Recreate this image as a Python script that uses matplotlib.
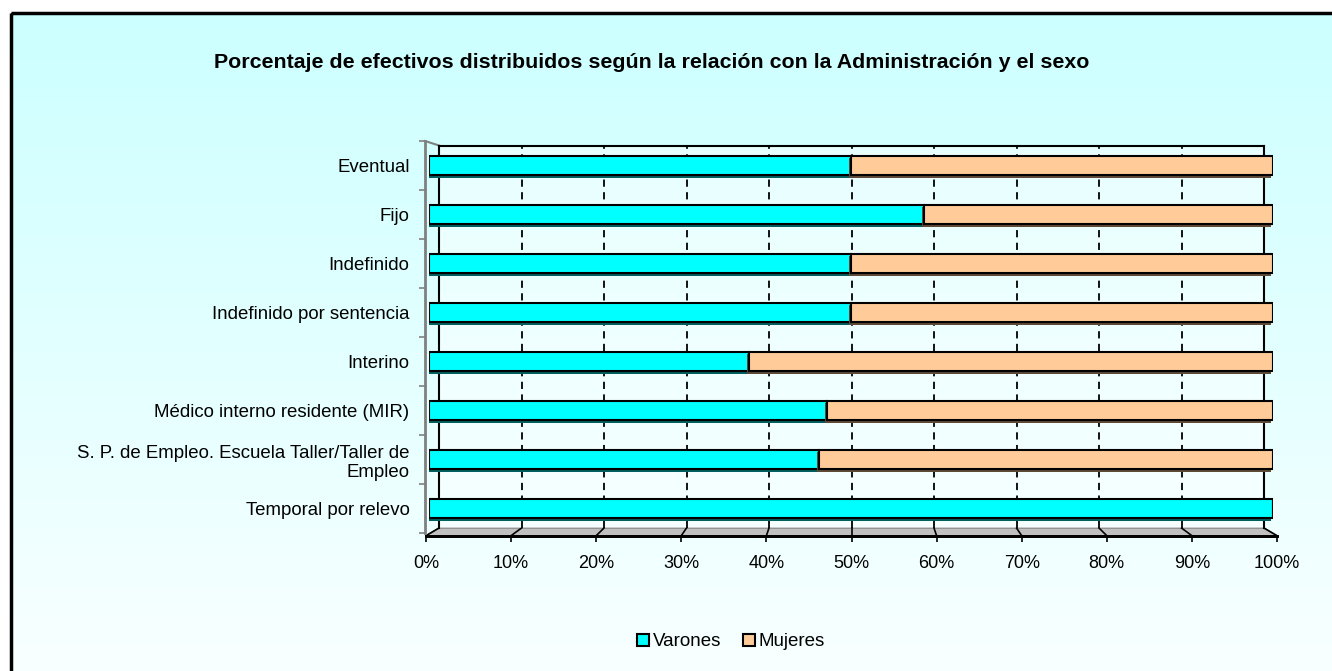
import numpy as np
import matplotlib
matplotlib.use("Agg")
import matplotlib.pyplot as plt
from matplotlib.patches import Rectangle, Polygon, Patch
from matplotlib import patheffects as pe

plt.rcParams['font.family'] = ['Liberation Sans', 'DejaVu Sans']

# ---- data -------------------------------------------------------------
categories = [
    "Eventual",
    "Fijo",
    "Indefinido",
    "Indefinido por sentencia",
    "Interino",
    "Médico interno residente (MIR)",
    "S. P. de Empleo. Escuela Taller/Taller de\nEmpleo",
    "Temporal por relevo",
]
varones = [50.0, 58.6, 50.0, 50.0, 37.9, 47.2, 46.2, 100.0]
mujeres = [50.0, 41.4, 50.0, 50.0, 62.1, 52.8, 53.8, 0.0]
series_names = ["Varones", "Mujeres"]
series_colors = ["#00FFFF", "#FFCC99"]
shadow_colors = ["#005F5F", "#5F4A38"]
x_ticks = np.arange(0, 101, 10)
x_ticklabels = [f"{t}%" for t in x_ticks]
title = "Porcentaje de efectivos distribuidos según la relación con la Administración y el sexo"

W, H = 1332, 671
fig = plt.figure(figsize=(W / 100, H / 100), dpi=100)


def frac(x0, y0, x1, y1):
    """Pixel box (top-left origin) -> figure fraction rect."""
    return [x0 / W, 1 - y1 / H, (x1 - x0) / W, (y1 - y0) / H]


# ---- background panel with vertical gradient ----------------------------
bg = fig.add_axes([0, 0, 1, 1], zorder=0)
bg.set_xlim(0, W)
bg.set_ylim(H, 0)
bg.axis("off")
grad = np.linspace(0, 1, 256)[:, None]
top = np.array([0xCC, 0xFF, 0xFF]) / 255
bot = np.array([0xFA, 0xFF, 0xFF]) / 255
img = top[None, None, :] * (1 - grad[..., None]) + bot[None, None, :] * grad[..., None]
bg.imshow(img, extent=(11, W + 20, H + 20, 13), aspect="auto", interpolation="bilinear", zorder=0)
bg.add_patch(Rectangle((11, 13), W + 20, H + 20, fill=False, edgecolor="black", lw=2.5, zorder=1))

# geometry of the 3-D plot area (pixels)
back_x0, back_x1, back_top, back_bot = 439, 1264, 145.5, 528
front_x0, front_x1, front_y = 426, 1277, 535.7
axis_x, axis_top = 425, 141

# floor of the plot area
fracs = x_ticks / 100.0
floor = Polygon([(back_x0, back_bot), (back_x1, back_bot), (front_x1, front_y), (front_x0, front_y)],
                closed=True, facecolor="#C0C0C0", edgecolor="#808080", lw=1, zorder=2)
bg.add_patch(floor)
for f in fracs:
    bx = back_x0 + (back_x1 - back_x0) * f
    fx = front_x0 + (front_x1 - front_x0) * f
    bg.plot([bx, fx], [back_bot, front_y], color="black", lw=1.2, zorder=3)
bg.plot([front_x0, front_x1], [front_y, front_y], color="black", lw=2, zorder=3)
# side wall edge joining the value axis to the back wall
bg.plot([axis_x, back_x0], [axis_top, back_top], color="#808080", lw=1.5, zorder=3)

# ---- back wall with dashed gridlines -----------------------------------
wall = fig.add_axes(frac(back_x0, back_top, back_x1, back_bot), zorder=1)
wall.set_xlim(0, 100)
wall.set_ylim(0, 1)
wall.set_facecolor((1, 1, 1, 0.45))
for t in x_ticks[1:-1]:
    wall.axvline(t, color="black", lw=1.3, ls=(0, (4, 3)))
for s in wall.spines.values():
    s.set_color("black")
    s.set_linewidth(1.5)
wall.spines["bottom"].set_visible(False)
wall.set_xticks([])
wall.set_yticks([])

# ---- horizontal axis (front edge) --------------------------------------
front = fig.add_axes(frac(front_x0, front_y - 1, front_x1, front_y), zorder=2)
front.set_facecolor("none")
front.set_xlim(0, 100)
front.set_xticks(x_ticks)
front.set_xticklabels(x_ticklabels)
front.set_yticks([])
for k in ["top", "left", "right"]:
    front.spines[k].set_visible(False)
front.spines["bottom"].set_color("black")
front.spines["bottom"].set_linewidth(2)
front.tick_params(axis="x", direction="out", length=4, width=1.2, pad=10, colors="black",
                  labelsize=13)

# ---- stacked bars -------------------------------------------------------
ax = fig.add_axes(frac(429, axis_top, 1273, 533), zorder=3)
ax.set_facecolor("none")
y = np.arange(len(categories))
left = np.zeros(len(categories))
for vals, col, sh in zip([varones, mujeres], series_colors, shadow_colors):
    bars = ax.barh(y, vals, left=left, height=0.40, color=col, edgecolor="black", lw=1.5)
    for b in bars:
        b.set_path_effects([
            pe.SimplePatchShadow(offset=(-1.5, -1.8), shadow_rgbFace=sh, alpha=1.0),
            pe.Normal(),
        ])
    left += np.array(vals)
ax.set_xlim(0, 100)
ax.set_ylim(len(categories) - 0.5, -0.5)
ax.set_xticks([])
ax.set_yticks(y)
ax.set_yticklabels(categories, multialignment="center")
ax.set_yticks(np.arange(len(categories) + 1) - 0.5, minor=True)
ax.tick_params(axis="y", which="major", length=0, pad=11, labelsize=13.4)
ax.tick_params(axis="y", which="minor", length=4, width=1.2, color="#808080", direction="out")
for k in ["top", "bottom", "right"]:
    ax.spines[k].set_visible(False)
ax.spines["left"].set_position(("outward", 3))
ax.spines["left"].set_color("#808080")
ax.spines["left"].set_linewidth(2)

# ---- title & legend ------------------------------------------------------
fig.text(652 / W, 1 - 63 / H, title, ha="center", va="center", fontsize=15.4, fontweight="bold")
handles = [Patch(facecolor=c, edgecolor="black", lw=1.5) for c in series_colors]
fig.legend(handles, series_names, loc="center", bbox_to_anchor=(731 / W, 1 - 642 / H), ncol=2,
           frameon=False, fontsize=13.5, handlelength=0.6, handleheight=0.6,
           handletextpad=0.2, columnspacing=1.2)

fig.savefig("out.png", dpi=100)
